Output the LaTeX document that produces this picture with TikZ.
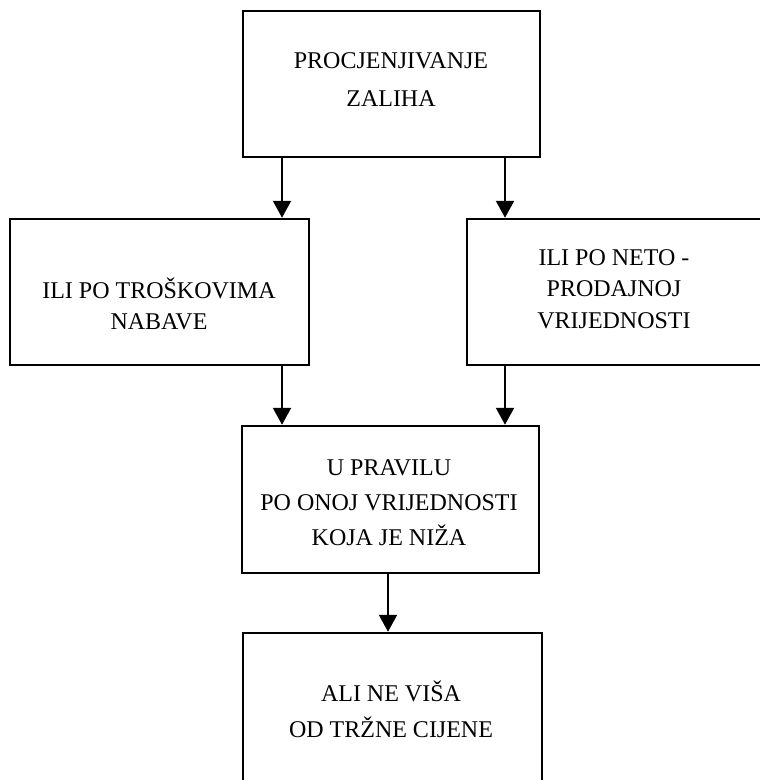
\documentclass[tikz,border=0pt]{standalone}
\usepackage{fontspec}
\setmainfont{Liberation Serif}
\usetikzlibrary{arrows.meta}
\begin{document}
\begin{tikzpicture}[x=1pt,y=-1pt,
  boxnode/.style={draw=black, line width=2.5pt, inner sep=0pt, rectangle},
  txt/.style={anchor=base, inner sep=0pt, font=\fontsize{24}{24}\selectfont},
  arr/.style={line width=2.2pt, -{Triangle[width=18pt,length=17pt]}}]
\useasboundingbox (0,0) rectangle (760,780);
\clip (0,0) rectangle (760,780);
% boxes
\node[boxnode, minimum width=297pt, minimum height=146pt] (top) at (391.5,84) {};
\node[boxnode, minimum width=299pt, minimum height=146pt] (lbox) at (159.5,292) {};
\node[boxnode, minimum width=297pt, minimum height=146pt] (rbox) at (615.5,292) {};
\node[boxnode, minimum width=297pt, minimum height=147pt] (mid) at (390.5,499.5) {};
\node[boxnode, minimum width=299pt, minimum height=156pt] (bot) at (392.5,711) {};
% texts
\node[txt] (t1) at (391,68) {PROCJENJIVANJE};
\node[txt] (t2) at (391,106) {ZALIHA};
\node[txt] (l1) at (159,298) {ILI PO TROŠKOVIMA};
\node[txt] (l2) at (159,329) {NABAVE};
\node[txt] (r1) at (614,265) {ILI PO NETO -};
\node[txt] (r2) at (614,296) {PRODAJNOJ};
\node[txt] (r3) at (614,328) {VRIJEDNOSTI};
\node[txt] (m1) at (389,475) {U PRAVILU};
\node[txt] (m2) at (389,510) {PO ONOJ VRIJEDNOSTI};
\node[txt] (m3) at (389,545) {KOJA JE NIŽA};
\node[txt] (b1) at (391,701) {ALI NE VIŠA};
\node[txt] (b2) at (391,737) {OD TRŽNE CIJENE};
% arrow columns
\coordinate (cl) at (282,0);
\coordinate (cr) at (505,0);
\coordinate (cm) at (388,0);
\draw[arr] (top.south -| cl) -- (lbox.north -| cl);
\draw[arr] (top.south -| cr) -- (rbox.north -| cr);
\draw[arr] (lbox.south -| cl) -- (mid.north -| cl);
\draw[arr] (rbox.south -| cr) -- (mid.north -| cr);
\draw[arr] (mid.south -| cm) -- (bot.north -| cm);
\end{tikzpicture}
\end{document}
